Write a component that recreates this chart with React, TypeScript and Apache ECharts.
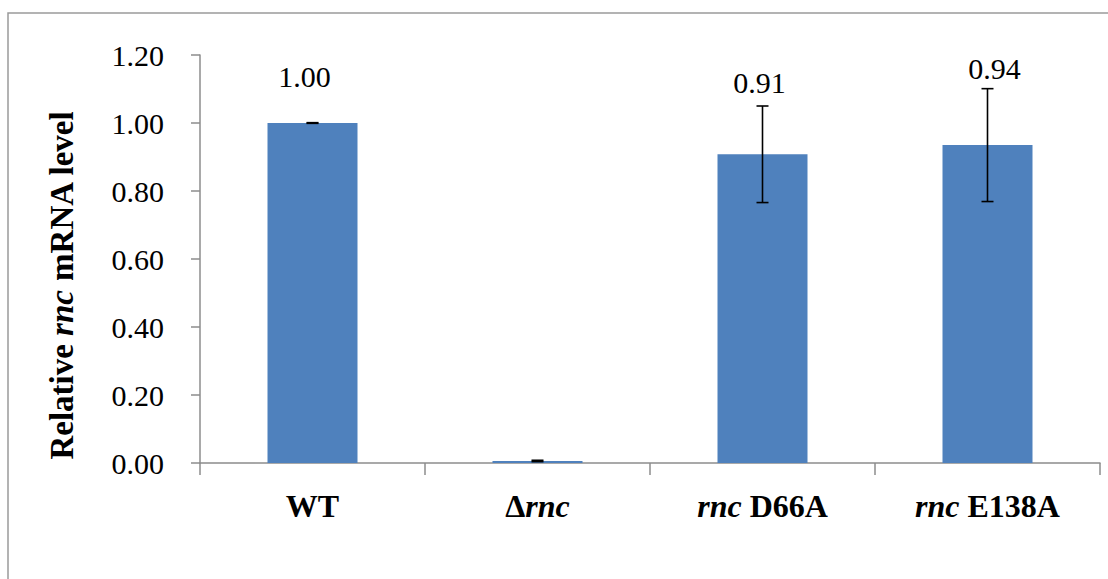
import React, { useEffect, useRef } from "react";
import * as echarts from "echarts";

const categories = ["WT", "Δrnc", "rnc D66A", "rnc E138A"];
const categoryRich = ["{b|WT}", "{b|Δ}{bi|rnc}", "{bi|rnc}{b| D66A}", "{bi|rnc}{b| E138A}"];
const values = [1.0, 0.006, 0.908, 0.935];
const errors = [0.001, 0.002, 0.142, 0.166];
const showValueLabel = [true, false, true, true];
const labelDistance = [32, 5, 57, 62];
const labelShiftX = [-8, 0, -3, 7];
const yTicks = { min: 0, max: 1.2, interval: 0.2 };

const FONT = "Liberation Serif";

export default function App() {
  const ref = useRef<HTMLDivElement>(null);
  useEffect(() => {
    if (!ref.current) return;
    const chart = echarts.init(ref.current, null, { renderer: "svg" });
    const errData = values.map((v, i) => [i, v - errors[i], v + errors[i]]);
    chart.setOption({
      animation: false,
      backgroundColor: "#ffffff",
      textStyle: { fontFamily: FONT },
      grid: { left: 200, right: 8, top: 55, bottom: 116, containLabel: false },
      graphic: [
        {
          type: "rect",
          shape: { x: 8, y: 13, width: 1200, height: 700 },
          style: { fill: "none", stroke: "#9a9a9a", lineWidth: 1.5 },
          silent: true,
        },
      ],
      xAxis: {
        type: "category",
        data: categories,
        boundaryGap: true,
        axisLine: { lineStyle: { color: "#8c8c8c", width: 1.5 } },
        axisTick: { show: true, length: 12, inside: false, lineStyle: { color: "#8c8c8c", width: 1.5 } },
        axisLabel: {
          margin: 27,
          fontFamily: FONT,
          formatter: (_v: string, idx: number) => categoryRich[idx],
          rich: {
            b: { fontFamily: FONT, fontSize: 32, fontWeight: "bold", color: "#000" },
            bi: { fontFamily: FONT, fontSize: 32, fontWeight: "bold", fontStyle: "italic", color: "#000" },
          },
        },
        splitLine: { show: false },
      },
      yAxis: {
        type: "value",
        min: yTicks.min,
        max: yTicks.max,
        interval: yTicks.interval,
        name: "{b|Relative }{bi|rnc}{b| mRNA level}",
        nameLocation: "middle",
        nameRotate: 90,
        nameGap: 122,
        nameTextStyle: {
          fontFamily: FONT,
          padding: [0, 52, 0, 0],
          rich: {
            b: { fontFamily: FONT, fontSize: 33, fontWeight: "bold", color: "#000" },
            bi: { fontFamily: FONT, fontSize: 33, fontWeight: "bold", fontStyle: "italic", color: "#000" },
          },
        },
        axisLine: { show: true, lineStyle: { color: "#8c8c8c", width: 1.5 } },
        axisTick: { show: true, length: 9, inside: false, lineStyle: { color: "#8c8c8c", width: 1.5 } },
        axisLabel: {
          margin: 36,
          formatter: (v: number) => v.toFixed(2),
          fontFamily: FONT,
          fontSize: 30,
          color: "#000",
        },
        splitLine: { show: false },
      },
      series: [
        {
          type: "bar",
          barWidth: "40%",
          itemStyle: { color: "#4F81BD" },
          data: values.map((v, i) => ({
            value: v,
            label: {
              show: showValueLabel[i],
              position: "top",
              distance: labelDistance[i],
              offset: [labelShiftX[i], 0],
              formatter: (p: any) => Number(p.value).toFixed(2),
              fontFamily: FONT,
              fontSize: 30,
              color: "#000",
            },
          })),
          z: 2,
        },
        {
          type: "custom",
          z: 5,
          data: errData,
          renderItem: (params: any, api: any) => {
            const i = api.value(0);
            const lo = api.coord([i, api.value(1)]);
            const hi = api.coord([i, api.value(2)]);
            const x = lo[0];
            const cap = 6;
            const style = { stroke: "#000", lineWidth: 1.6 };
            return {
              type: "group",
              children: [
                { type: "line", shape: { x1: x, y1: lo[1], x2: x, y2: hi[1] }, style },
                { type: "line", shape: { x1: x - cap, y1: lo[1], x2: x + cap, y2: lo[1] }, style },
                { type: "line", shape: { x1: x - cap, y1: hi[1], x2: x + cap, y2: hi[1] }, style },
              ],
            };
          },
        },
      ],
    });
    return () => chart.dispose();
  }, []);
  return (
    <div
      ref={ref}
      style={{ position: "fixed", left: 0, top: 0, width: 1108, height: 579, background: "#fff" }}
    />
  );
}
